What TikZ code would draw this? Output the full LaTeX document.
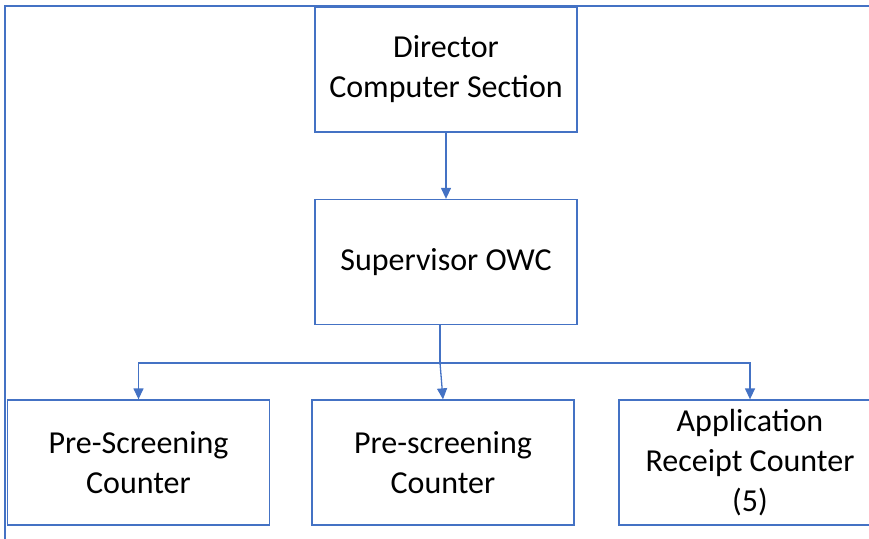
\documentclass[tikz,border=0pt]{standalone}
\usepackage{fontspec}
\setmainfont{Carlito}
\usetikzlibrary{arrows.meta}
\definecolor{boxblue}{HTML}{4472C4}
\tikzset{
  box/.style={draw=boxblue, line width=1.3pt, minimum width=262pt, minimum height=125pt,
    align=center, inner sep=0pt, font=\fontsize{32}{40}\selectfont, text=black},
  conn/.style={draw=boxblue, line width=1.3pt},
  arr/.style={conn, -{Triangle[length=11pt,width=10pt]}}
}
\begin{document}
\begin{tikzpicture}[x=1pt,y=-1pt]
\useasboundingbox (0,0) rectangle (869,538);
\clip (0,0) rectangle (869,538);
\draw[conn] (5,560) -- (5,6) -- (900,6);
\node[box] (dir) at (446,69.5) {Director\\Computer Section};
\node[box] (sup) at (446,262) {Supervisor OWC};
\node[box] (pre1) at (138.5,462.5) {Pre-Screening\\Counter};
\node[box] (pre2) at (443,462.5) {Pre-screening\\Counter};
\node[box] (app) at (750,462.5) {Application\\Receipt Counter\\(5)};
\coordinate (j) at (440,363);
\draw[arr] (dir) -- (sup);
\draw[conn] (sup.south -| j) -- (j);
\draw[arr] (j) -- (pre2.north);
\draw[arr] (j) -| (pre1.north);
\draw[arr] (j) -| (app.north);
\end{tikzpicture}
\end{document}
